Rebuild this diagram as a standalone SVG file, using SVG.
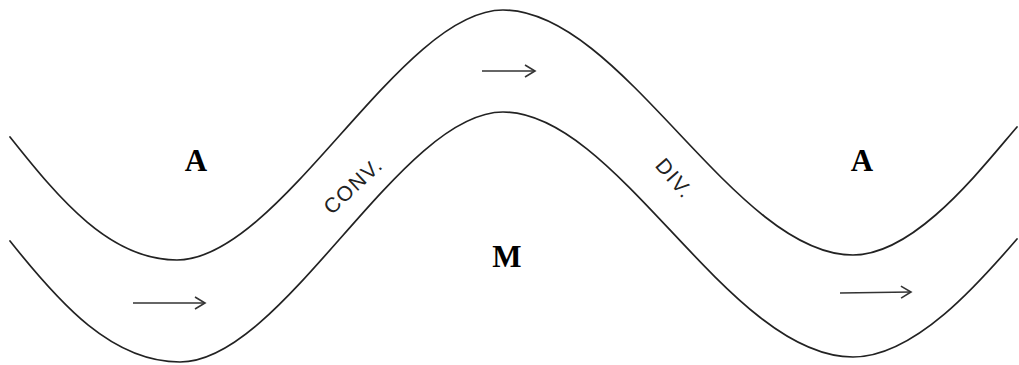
<svg xmlns="http://www.w3.org/2000/svg" width="1019" height="365" viewBox="0 0 1019 365">
<style>
.curve{fill:none;stroke:#222;stroke-width:1.7;stroke-linecap:round}
.arrow{fill:none;stroke:#333;stroke-width:1.6}
.big{font-family:"Liberation Serif",serif;font-weight:bold;font-size:31px;fill:#000;text-anchor:middle}
.lbl{font-family:"Liberation Sans",sans-serif;font-size:21px;fill:#222;text-anchor:middle;letter-spacing:1.5px}
</style>
<defs>
<marker id="ah" markerUnits="userSpaceOnUse" markerWidth="14" markerHeight="16" refX="11" refY="7" orient="auto">
<path d="M1,1 L11,7 L1,13" fill="none" stroke="#333" stroke-width="1.6"/>
</marker>
</defs>
<rect width="1019" height="365" fill="#fff"/>
<g id="curves">
<path id="upper" class="curve" d="M10,137 C60,200 110,260 177,260 C280,260 400,10 503,10 C622,10 734,255 853,255 C915,255 980,170 1017,127"/>
<path id="lower" class="curve" d="M10,241 C60,304 112,362 180,362 C283,362 400,112 503,112 C618,112 728,357 853,357 C915,357 980,282 1017,239"/>
</g>
<g id="connectors">
<line class="arrow" x1="482" y1="71" x2="535" y2="71" marker-end="url(#ah)"/>
<line class="arrow" x1="133" y1="303" x2="205" y2="303" marker-end="url(#ah)"/>
<line class="arrow" x1="840" y1="293" x2="911" y2="292" marker-end="url(#ah)"/>
</g>
<g id="labelA1"><text class="big" x="196" y="171">A</text></g>
<g id="labelA2"><text class="big" x="862" y="171">A</text></g>
<g id="labelM"><text class="big" x="507" y="267">M</text></g>
<g id="labelConv"><text class="lbl" transform="translate(358,191) rotate(-43)">CONV.</text></g>
<g id="labelDiv"><text class="lbl" transform="translate(669,183) rotate(49)">DIV.</text></g>
</svg>
